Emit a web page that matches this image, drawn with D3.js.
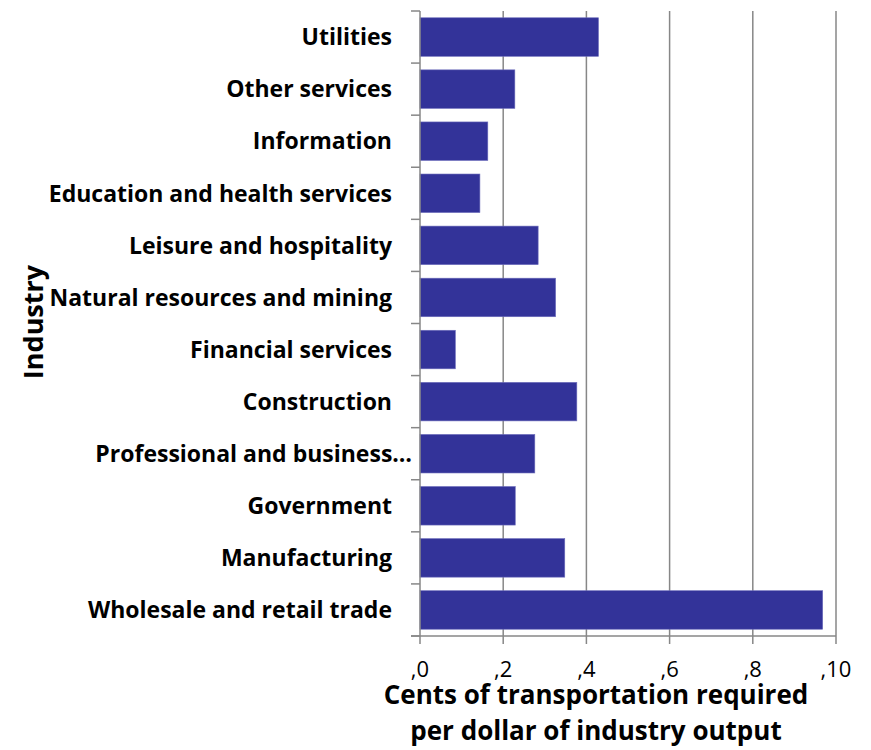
<!DOCTYPE html>
<html>
<head>
<meta charset="utf-8">
<script src="https://cdn.jsdelivr.net/npm/d3@7/dist/d3.min.js"></script>
<style>
  html, body { margin: 0; padding: 0; background: #fff; }
  svg { display: block; }
  text { font-family: "Open Sans", Lato, sans-serif; fill: #000; }
</style>
</head>
<body>
<svg id="chart" width="871" height="750"></svg>
<script>
const industries = [
  "Utilities",
  "Other services",
  "Information",
  "Education and health services",
  "Leisure and hospitality",
  "Natural resources and mining",
  "Financial services",
  "Construction",
  "Professional and business…",
  "Government",
  "Manufacturing",
  "Wholesale and retail trade"
];
const cents = [4.29, 2.28, 1.63, 1.44, 2.84, 3.26, 0.85, 3.77, 2.76, 2.29, 3.48, 9.68];
const xTicks = [0, 2, 4, 6, 8, 10];
const xTickLabels = [",0", ",2", ",4", ",6", ",8", ",10"];
const xTitle = ["Cents of transportation required", "per dollar of industry output"];
const yTitle = "Industry";

const svg = d3.select("#chart");
const pLeft = 420, pRight = 836, pTop = 11, pBottom = 636;

const x = d3.scaleLinear().domain([0, 10]).range([pLeft, pRight]);
const y = d3.scaleBand().domain(industries).range([pTop, pBottom])
  .paddingInner(0.26).paddingOuter(0.13);

const gridColor = "#878787";

// gridlines
svg.append("g").selectAll("line").data(xTicks.filter(d => d > 0)).join("line")
  .attr("x1", d => x(d)).attr("x2", d => x(d))
  .attr("y1", pTop).attr("y2", pBottom)
  .attr("stroke", gridColor).attr("stroke-width", 1.5);

// bars
svg.append("g").selectAll("rect").data(industries).join("rect")
  .attr("x", x(0))
  .attr("y", d => y(d))
  .attr("width", (d, i) => x(cents[i]) - x(0))
  .attr("height", y.bandwidth())
  .attr("fill", "#333399")
  .attr("stroke", "#6d6dbb").attr("stroke-width", 0.6);

// y axis line + ticks at band boundaries
const yBounds = d3.range(industries.length + 1).map(i => pTop + i * (pBottom - pTop) / industries.length);
const yAx = svg.append("g");
yAx.append("line").attr("x1", pLeft).attr("x2", pLeft).attr("y1", pTop).attr("y2", pBottom)
  .attr("stroke", gridColor).attr("stroke-width", 1.5);
yAx.selectAll("line.tk").data(yBounds).join("line").attr("class", "tk")
  .attr("x1", pLeft - 9).attr("x2", pLeft).attr("y1", d => d).attr("y2", d => d)
  .attr("stroke", gridColor).attr("stroke-width", 1.5);

// category labels
svg.append("g").selectAll("text").data(industries).join("text")
  .attr("x", d => d.endsWith("…") ? 412 : 392)
  .attr("y", d => y(d) + y.bandwidth() / 2)
  .attr("dy", "0.36em")
  .attr("text-anchor", "end")
  .attr("font-size", 23)
  .attr("font-weight", "bold")
  .text(d => d);

// x axis
const xAx = svg.append("g");
xAx.append("line").attr("x1", pLeft - 9).attr("x2", pRight).attr("y1", pBottom).attr("y2", pBottom)
  .attr("stroke", gridColor).attr("stroke-width", 1.5);
xAx.selectAll("line.tk").data(xTicks).join("line").attr("class", "tk")
  .attr("x1", d => x(d)).attr("x2", d => x(d)).attr("y1", pBottom).attr("y2", pBottom + 8)
  .attr("stroke", gridColor).attr("stroke-width", 1.5);
xAx.selectAll("text").data(xTicks).join("text")
  .attr("x", d => x(d))
  .attr("y", 677)
  .attr("text-anchor", "middle")
  .attr("font-size", 22)
  .text((d, i) => xTickLabels[i]);

// axis titles
svg.append("text").attr("text-anchor", "middle")
  .attr("font-size", 26).attr("font-weight", "bold")
  .selectAll("tspan").data(xTitle).join("tspan")
  .attr("x", 596).attr("y", (d, i) => 704 + i * 36).text(d => d);

svg.append("text")
  .attr("transform", "translate(43,322) rotate(-90)")
  .attr("text-anchor", "middle")
  .attr("font-size", 27).attr("font-weight", "bold")
  .text(yTitle);
</script>
</body>
</html>
